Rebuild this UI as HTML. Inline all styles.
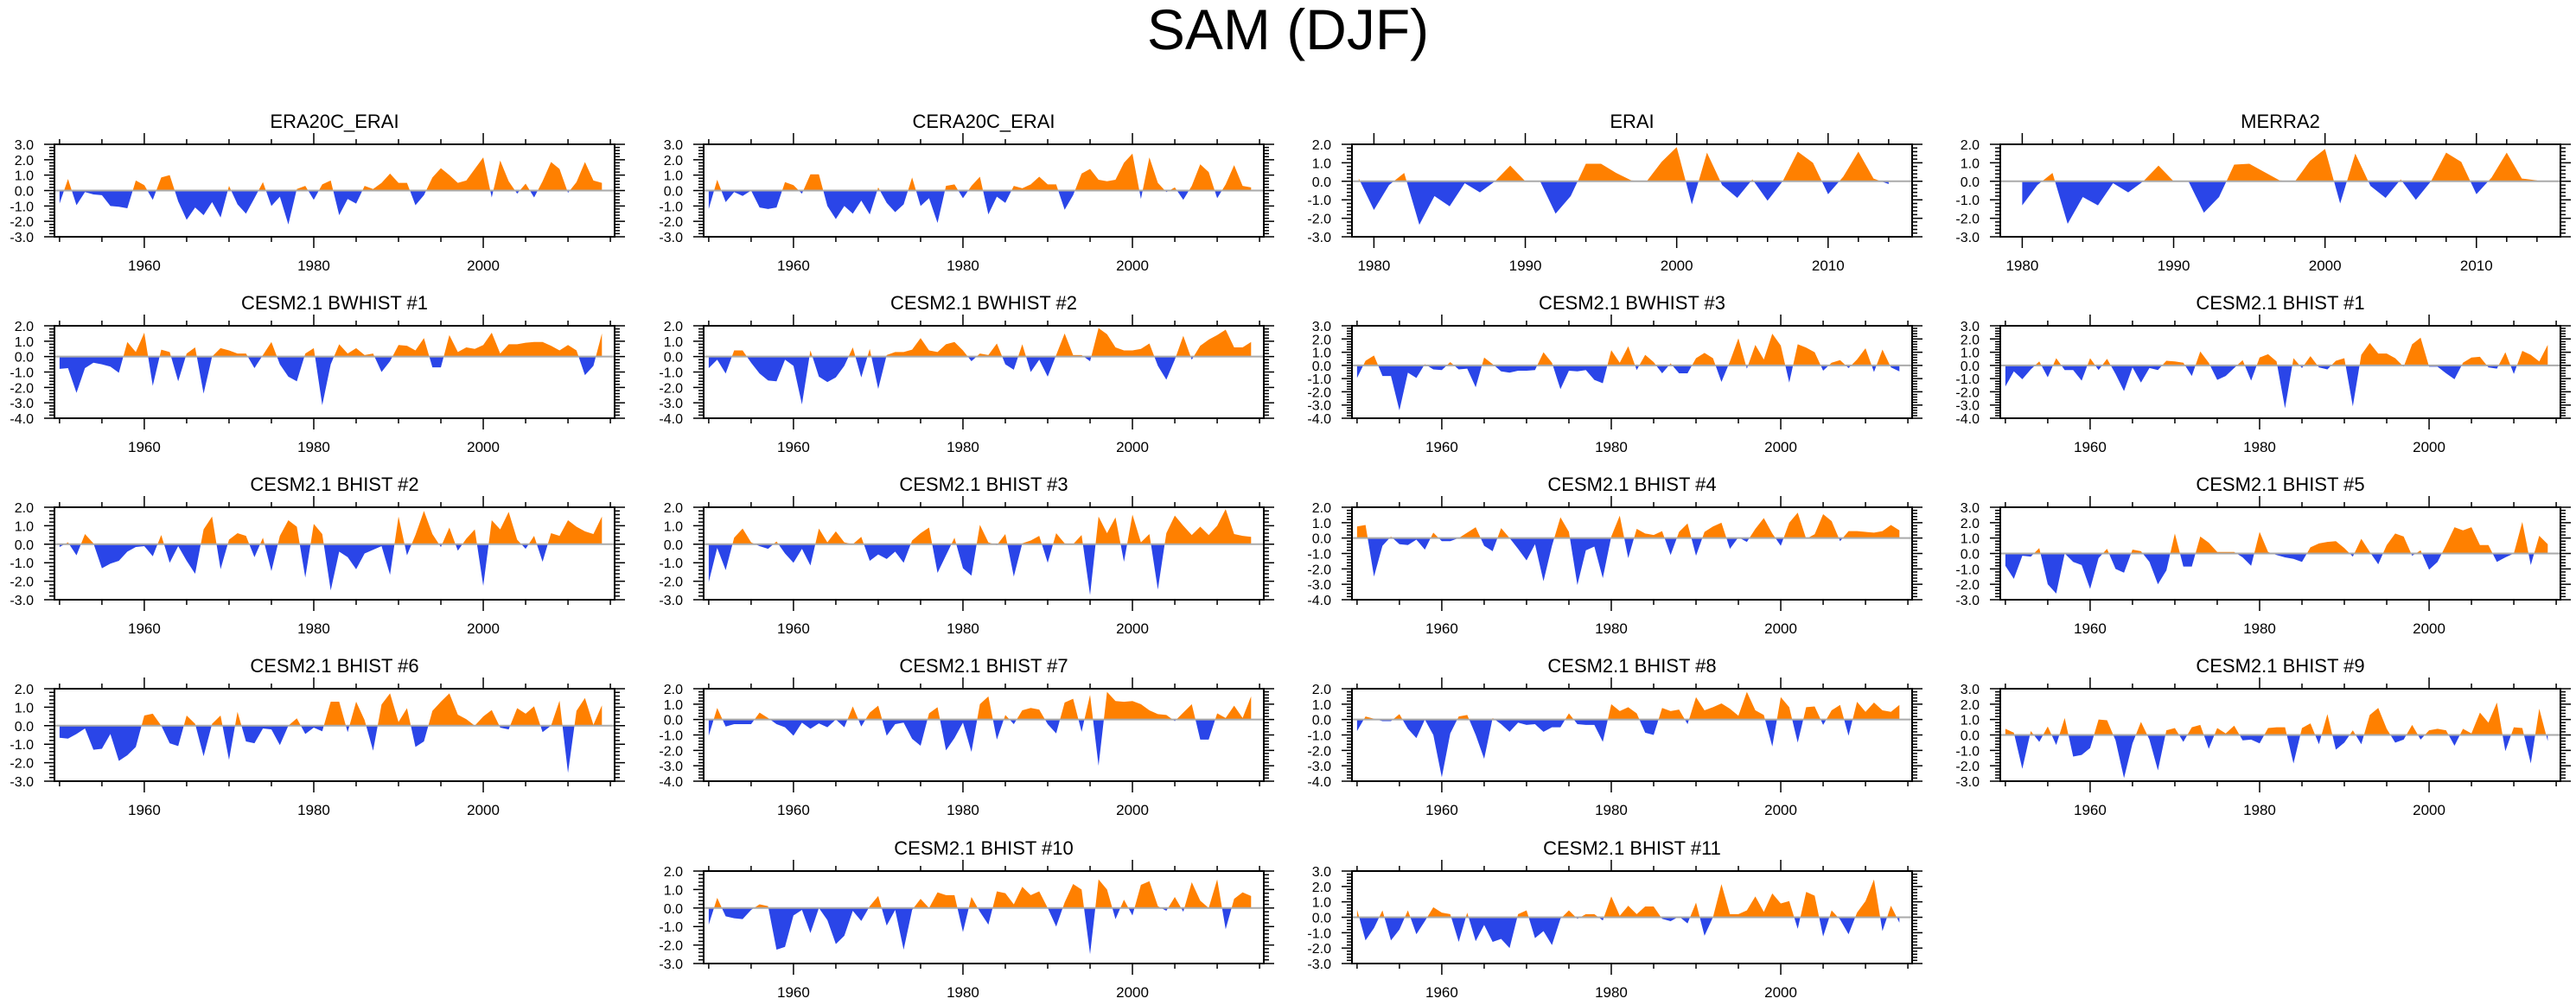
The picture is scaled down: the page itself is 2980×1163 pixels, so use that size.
<!DOCTYPE html>
<html><head><meta charset="utf-8"><title>SAM (DJF)</title>
<style>
html,body{margin:0;padding:0;background:#fff;}
svg{display:block;font-family:"Liberation Sans",sans-serif;}
</style></head>
<body>
<svg id="chart" width="2980" height="1163" viewBox="0 0 2980 1163" xmlns="http://www.w3.org/2000/svg">
<rect width="2980" height="1163" fill="#fff"/>
<text x="1490" y="57" font-size="66" text-anchor="middle" fill="#000">SAM (DJF)</text>
</svg>
<script>
const panelTitles = ["ERA20C_ERAI","CERA20C_ERAI","ERAI","MERRA2",
"CESM2.1 BWHIST #1","CESM2.1 BWHIST #2","CESM2.1 BWHIST #3","CESM2.1 BHIST #1",
"CESM2.1 BHIST #2","CESM2.1 BHIST #3","CESM2.1 BHIST #4","CESM2.1 BHIST #5",
"CESM2.1 BHIST #6","CESM2.1 BHIST #7","CESM2.1 BHIST #8","CESM2.1 BHIST #9",
"CESM2.1 BHIST #10","CESM2.1 BHIST #11"];
const panelCols = [0,1,2,3, 0,1,2,3, 0,1,2,3, 0,1,2,3, 1,2];
const panelRows = [0,0,0,0, 1,1,1,1, 2,2,2,2, 3,3,3,3, 4,4];
const yMinVals = [-3,-3,-3,-3, -4,-4,-4,-4, -3,-3,-4,-3, -3,-4,-4,-3, -3,-3];
const yMaxVals = [3,3,2,2, 2,2,3,3, 2,2,2,3, 2,2,2,3, 2,3];
const startYears = [1950,1950,1979,1980, 1950,1950,1950,1950, 1950,1950,1950,1950, 1950,1950,1950,1950, 1950,1950];
const shortPanels = [2,3];

const sERA20C = [-0.85,0.75,-0.95,-0.1,-0.25,-0.3,-1.0,-1.05,-1.15,0.65,0.35,-0.6,0.85,1.0,-0.7,-1.9,-1.1,-1.6,-0.75,-1.75,0.3,-0.9,-1.5,-0.5,0.55,-1.0,-0.4,-2.2,0.1,0.3,-0.6,0.4,0.65,-1.6,-0.55,-0.85,0.3,0.1,0.5,1.1,0.5,0.5,-0.95,-0.3,0.85,1.45,1.0,0.5,0.65,1.4,2.15,-0.45,1.95,0.6,-0.2,0.45,-0.45,0.6,1.85,1.4,-0.15,0.55,1.85,0.65,0.5];
const sCERA20C = [-1.2,0.7,-0.75,-0.1,-0.35,0.0,-1.1,-1.2,-1.1,0.55,0.35,-0.2,1.05,1.05,-1.0,-1.85,-1.0,-1.5,-0.65,-1.55,0.2,-0.8,-1.4,-0.9,0.85,-1.0,-0.5,-2.1,0.3,0.4,-0.5,0.3,0.9,-1.55,-0.4,-0.8,0.3,0.15,0.4,0.9,0.4,0.4,-1.25,-0.3,1.1,1.4,0.7,0.6,0.7,1.8,2.4,-0.55,2.15,0.5,-0.1,0.2,-0.6,0.3,1.7,1.2,-0.5,0.4,1.65,0.3,0.2];
const sERAI = [0.15,-1.55,-0.2,0.45,-2.35,-0.8,-1.35,-0.1,-0.6,0.0,0.85,0.0,-0.03,-1.75,-0.8,0.95,0.95,0.45,0.05,-0.02,1.05,1.85,-1.25,1.55,-0.2,-0.9,0.1,-1.05,0.0,1.6,1.0,-0.7,0.25,1.6,0.15,-0.15];
const sMERRA2 = [-1.3,-0.2,0.45,-2.3,-0.85,-1.3,-0.1,-0.6,0.0,0.85,0.0,-0.03,-1.7,-0.85,0.9,0.95,0.5,0.05,-0.02,1.1,1.75,-1.2,1.5,-0.25,-0.9,0.1,-1.0,0.0,1.55,1.05,-0.7,0.2,1.55,0.15,0.05];
const sBW1 = [-0.8,-0.75,-2.35,-0.75,-0.4,-0.5,-0.65,-1.05,0.95,0.3,1.55,-1.9,0.45,0.3,-1.6,0.2,0.6,-2.4,0.0,0.55,0.4,0.2,0.2,-0.75,0.1,0.95,-0.5,-1.3,-1.6,0.2,0.55,-3.15,-0.5,0.8,0.2,0.55,0.1,0.2,-1.0,-0.3,0.75,0.7,0.4,1.2,-0.7,-0.7,1.4,0.3,0.6,0.5,0.75,1.55,0.2,0.8,0.8,0.9,0.95,0.95,0.7,0.4,0.75,0.4,-1.2,-0.6,1.5];
const sBW2 = [-0.75,-0.2,-1.1,0.4,0.4,-0.4,-1.1,-1.55,-1.6,-0.2,-0.6,-3.1,0.4,-1.3,-1.65,-1.35,-0.6,0.6,-1.35,0.5,-2.1,0.1,0.3,0.3,0.45,1.2,0.4,0.3,0.8,0.95,0.4,-0.3,0.2,0.1,0.85,-0.5,-0.85,0.8,-1.0,-0.2,-1.3,0.1,1.5,0.1,0.1,-0.3,1.85,1.45,0.6,0.4,0.4,0.5,0.85,-0.6,-1.5,-0.2,1.35,-0.2,0.7,1.1,1.4,1.75,0.6,0.6,0.95];
const sBW3 = [-0.95,0.35,0.75,-0.8,-0.8,-3.4,-0.55,-0.95,0.1,-0.3,-0.35,0.25,-0.3,-0.25,-1.65,0.6,0.1,-0.45,-0.55,-0.4,-0.4,-0.35,1.0,0.2,-1.8,-0.4,-0.45,-0.35,-1.1,-1.35,1.15,0.2,1.45,-0.35,0.8,0.25,-0.6,0.15,-0.6,-0.6,0.55,0.95,0.55,-1.25,0.3,2.05,-0.25,1.55,0.45,2.4,1.5,-1.3,1.6,1.35,1.0,-0.4,0.2,0.4,-0.2,0.45,1.3,-0.5,1.2,-0.15,-0.45];
const sB1 = [-1.6,-0.45,-1.05,-0.3,0.3,-0.9,0.55,-0.35,-0.35,-1.15,0.55,-0.35,0.5,-0.65,-1.95,-0.15,-1.3,-0.2,-0.35,0.35,0.3,0.2,-0.8,1.05,0.2,-1.1,-0.8,-0.2,0.4,-1.15,0.6,0.85,0.3,-3.25,0.55,-0.2,0.7,-0.15,-0.3,0.35,0.55,-3.1,0.8,1.7,0.9,0.9,0.55,-0.1,1.6,2.1,-0.1,-0.1,-0.6,-1.05,0.2,0.6,0.65,-0.15,-0.25,1.0,-0.65,1.1,0.8,0.3,1.55];
const sB2 = [-0.15,0.1,-0.6,0.55,0.05,-1.3,-1.05,-0.9,-0.4,-0.15,-0.1,-0.65,0.5,-1.0,-0.1,-0.9,-1.6,0.8,1.5,-1.35,0.25,0.6,0.45,-0.7,0.35,-1.45,0.45,1.3,0.95,-1.8,1.1,0.55,-2.5,-0.4,-0.7,-1.35,-0.5,-0.3,-0.1,-1.65,1.5,-0.6,0.5,1.8,0.55,-0.15,0.9,-0.35,0.3,0.8,-2.25,1.3,0.8,1.75,0.25,-0.25,0.45,-0.95,0.6,0.45,1.3,0.95,0.7,0.55,1.5];
const sB3 = [-2.05,-0.2,-1.4,0.35,0.85,0.1,-0.1,-0.25,0.15,-0.5,-1.0,-0.25,-1.15,0.85,0.1,0.7,0.1,0.0,0.4,-0.9,-0.55,-0.8,-0.4,-1.0,0.2,0.6,0.9,-1.55,-0.6,0.35,-1.3,-1.7,1.05,0.1,-0.05,0.55,-1.75,0.05,0.2,0.45,-1.0,0.6,0.05,0.0,0.5,-2.75,1.5,0.6,1.45,-0.95,1.6,0.1,0.55,-2.45,0.6,1.55,1.0,0.5,0.95,0.5,1.0,1.9,0.55,0.45,0.4];
const sB4 = [0.75,0.85,-2.5,-0.5,0.1,-0.4,-0.45,-0.1,-0.75,0.35,-0.2,-0.2,0.0,0.35,0.7,-0.5,-0.85,0.65,0.0,-0.7,-1.45,-0.4,-2.8,-0.5,1.35,0.4,-3.05,-0.8,-0.55,-2.6,0.1,1.45,-1.3,0.6,0.3,0.2,0.45,-1.1,0.4,0.95,-1.15,0.4,0.75,1.0,-0.7,0.05,-0.25,0.6,1.3,0.3,-0.5,1.0,1.65,-0.05,0.25,1.55,1.1,-0.2,0.45,0.45,0.4,0.35,0.45,0.85,0.5];
const sB5 = [-0.8,-1.65,-0.15,-0.2,0.35,-2.0,-2.6,0.0,-0.55,-0.75,-2.3,-0.3,0.3,-1.0,-1.25,0.25,0.15,-0.55,-2.0,-1.1,1.3,-0.85,-0.85,1.1,0.7,0.1,0.1,0.1,-0.25,-0.8,1.4,0.1,-0.1,-0.25,-0.35,-0.55,0.4,0.65,0.75,0.8,0.35,-0.2,0.95,0.1,-0.7,0.55,1.3,1.1,-0.15,0.2,-1.05,-0.55,0.55,1.7,1.5,1.7,0.55,0.55,-0.55,-0.25,0.0,2.05,-0.75,1.15,0.6];
const sB6 = [-0.65,-0.7,-0.45,-0.15,-1.3,-1.25,-0.45,-1.9,-1.6,-1.15,0.55,0.65,0.0,-0.95,-1.1,0.55,0.1,-1.65,0.1,0.55,-1.85,0.75,-0.85,-0.95,-0.15,-0.2,-1.05,0.0,0.4,-0.45,-0.1,-0.3,1.3,1.3,-0.35,1.3,0.3,-1.35,1.15,1.75,0.2,0.95,-1.15,-0.85,0.8,1.3,1.75,0.6,0.35,0.0,0.5,0.85,-0.1,-0.2,0.95,0.65,1.05,-0.35,0.0,1.35,-2.55,0.8,1.5,0.05,1.1];
const sB7 = [-1.05,0.75,-0.45,-0.3,-0.3,-0.3,0.45,0.1,-0.3,-0.5,-1.05,-0.2,-0.6,-0.25,-0.5,0.0,-0.5,0.85,-0.45,0.45,0.9,-1.05,-0.3,-0.2,-1.25,-1.7,0.4,0.8,-2.0,-1.2,-0.2,-2.1,1.0,1.5,-1.3,0.3,-0.3,0.6,0.75,0.65,-0.3,-0.9,1.1,1.35,-0.8,1.6,-3.0,1.8,1.2,1.15,1.2,1.0,0.6,0.35,0.3,-0.1,0.45,1.0,-1.3,-1.3,0.4,0.1,0.9,0.1,1.5];
const sB8 = [-0.75,0.2,0.05,-0.1,-0.1,0.35,-0.6,-1.2,0.0,-1.0,-3.75,-0.9,0.2,0.3,-1.0,-2.55,0.1,-0.3,-0.8,-0.2,-0.35,-0.3,-0.8,-0.5,-0.5,0.4,-0.3,-0.35,-0.35,-1.45,1.0,0.55,0.8,0.4,-0.85,-1.0,0.75,0.55,0.65,-0.3,1.45,0.6,0.8,1.05,0.7,0.25,1.8,0.6,0.3,-1.75,1.45,0.8,-1.5,0.8,0.85,-0.35,0.6,0.95,-1.05,1.15,0.5,1.1,0.6,0.5,0.95];
const sB9 = [0.4,0.15,-2.2,0.25,-0.45,0.55,-0.65,1.1,-1.4,-1.3,-0.85,1.0,0.95,-0.35,-2.8,-0.55,0.85,-0.3,-2.3,0.3,0.45,-0.45,0.5,0.65,-0.9,0.45,0.1,0.6,-0.35,-0.3,-0.55,0.45,0.5,0.5,-1.85,0.45,0.75,-0.6,1.35,-0.95,-0.5,0.3,-0.6,1.3,1.75,0.4,-0.5,-0.3,0.65,-0.3,0.3,0.4,0.3,-0.7,0.4,0.1,1.45,0.8,2.1,-1.05,0.5,0.45,-1.85,1.7,-0.4];
const sB10 = [-0.9,0.55,-0.45,-0.55,-0.6,-0.1,0.2,0.1,-2.25,-2.1,-0.4,-0.1,-1.35,0.0,-0.65,-1.95,-1.5,-0.15,-0.7,0.1,0.65,-0.95,-0.1,-2.25,-0.1,0.5,0.0,0.85,0.7,0.7,-1.3,0.6,-0.2,-0.9,0.9,0.8,0.2,1.15,0.7,0.9,0.0,-1.0,0.3,1.3,1.0,-2.5,1.55,1.0,-0.6,0.45,-0.4,1.25,1.45,0.1,-0.15,0.6,-0.2,1.4,0.4,0.0,1.55,-1.15,0.5,0.85,0.65];
const sB11 = [0.5,-1.5,-0.7,0.45,-1.5,-0.8,0.45,-1.1,-0.25,0.65,0.3,0.2,-1.6,0.3,-1.55,-0.5,-1.6,-1.4,-2.0,0.2,0.45,-1.35,-0.9,-1.8,-0.1,0.45,-0.1,0.2,0.2,-0.2,1.35,0.1,0.75,0.2,0.7,0.7,-0.1,-0.25,0.05,-0.4,0.95,-1.2,0.0,2.15,0.2,0.2,0.45,1.35,0.35,1.55,0.9,1.05,-0.75,1.65,1.4,-1.25,0.45,-0.15,-1.1,0.3,1.05,2.45,-0.9,0.75,-0.35];

const allSeries = [sERA20C,sCERA20C,sERAI,sMERRA2,sBW1,sBW2,sBW3,sB1,sB2,sB3,sB4,sB5,sB6,sB7,sB8,sB9,sB10,sB11];
const longXTickLabels = ["1960","1980","2000"];
const shortXTickLabels = ["1980","1990","2000","2010"];

const NS = "http://www.w3.org/2000/svg";
const svg = document.getElementById("chart");
const COL_X = [63, 814, 1564, 2314];
const ROW_Y = [167, 377, 587, 797, 1008];
const PW = 648, PH = 107;
function mk(tag, attrs, parent) {
  const e = document.createElementNS(NS, tag);
  for (const k in attrs) e.setAttribute(k, attrs[k]);
  (parent || svg).appendChild(e);
  return e;
}

allSeries.forEach((vals, p) => {
  const x0 = COL_X[panelCols[p]], y0 = ROW_Y[panelRows[p]];
  const isShort = shortPanels.includes(p);
  const xmin = isShort ? 1978.55 : 1949.4;
  const xmax = isShort ? 2015.55 : 2015.5;
  const ymin = yMinVals[p], ymax = yMaxVals[p];
  const sx = yr => x0 + (yr - xmin) / (xmax - xmin) * PW;
  const sy = v => y0 + (ymax - v) / (ymax - ymin) * PH;

  const g = mk("g", {});
  
  

  const t = mk("text", {x: x0 + PW/2, y: y0 - 19, "font-size": 22, "text-anchor": "middle", fill: "#000"}, g);
  t.textContent = panelTitles[p];
  
  

  // area
  const zy = sy(0);
  const sY = startYears[p];
  let d = "M" + sx(sY).toFixed(2) + "," + zy.toFixed(2);
  vals.forEach((v, i) => { d += " L" + sx(sY + i).toFixed(2) + "," + sy(v).toFixed(2); });
  d += " L" + sx(sY + vals.length - 1).toFixed(2) + "," + zy.toFixed(2) + " Z";
  const cidA = "ca" + p, cidB = "cb" + p;
  const defs = mk("defs", {}, g);
  const c1 = mk("clipPath", {id: cidA}, defs);
  mk("rect", {x: x0, y: y0, width: PW, height: zy - y0}, c1);
  const c2 = mk("clipPath", {id: cidB}, defs);
  mk("rect", {x: x0, y: zy, width: PW, height: y0 + PH - zy}, c2);
  const pos = mk("path", {d: d, fill: "#ff8000", "clip-path": "url(#" + cidA + ")"}, g);
  
  
  const neg = mk("path", {d: d, fill: "#2a45e8", "clip-path": "url(#" + cidB + ")"}, g);
  
  
  const zl = mk("line", {x1: x0, x2: x0 + PW, y1: zy, y2: zy, stroke: "#aaa", "stroke-width": 2}, g);
  
  

  // frame
  const fr = mk("rect", {x: x0, y: y0, width: PW, height: PH, fill: "none", stroke: "#000", "stroke-width": 2}, g);
  
  

  // y ticks
  let tk = "";
  for (let v = ymin; v <= ymax + 1e-6; v += 0.2) {
    const vv = Math.round(v * 10) / 10;
    const y = sy(vv);
    const major = Math.abs(vv - Math.round(vv)) < 1e-6;
    const L = major ? 12 : 6;
    tk += `M${x0},${y}h${-L}M${x0 + PW},${y}h${L}`;
    if (major) {
      const yl = mk("text", {x: x0 - 24, y: y + 6, "font-size": 16, "text-anchor": "end", fill: "#000"}, g);
      yl.textContent = vv.toFixed(1);
      
      
    }
  }
  // x ticks
  const step = isShort ? 2 : 5;
  const majStep = isShort ? 10 : 20;
  const labels = isShort ? shortXTickLabels : longXTickLabels;
  for (let yr = Math.ceil(xmin / step) * step; yr <= xmax; yr += step) {
    const x = sx(yr);
    const major = labels.includes(String(yr));
    const L = major ? 13 : 6;
    tk += `M${x},${y0}v${-L}M${x},${y0 + PH}v${L}`;
    if (major) {
      const xl = mk("text", {x: x, y: y0 + PH + 39, "font-size": 17, "text-anchor": "middle", fill: "#000"}, g);
      xl.textContent = String(yr);
      
      
    }
  }
  const ticks = mk("path", {d: tk, stroke: "#000", "stroke-width": 1.5, fill: "none"}, g);
  
  
});
</script>
</body></html>
